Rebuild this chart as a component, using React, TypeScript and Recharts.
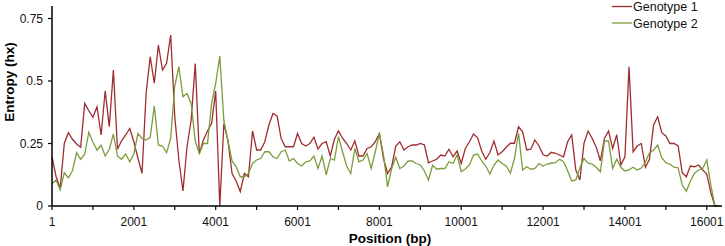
import { LineChart, Line, XAxis, YAxis, Label } from "recharts";

// entropy per 100 bp window
const GENOTYPE_1 = [
  0.197, 0.117, 0.07, 0.25, 0.293, 0.267, 0.248, 0.235, 0.41, 0.381,
  0.355, 0.397, 0.284, 0.461, 0.317, 0.544, 0.227, 0.261, 0.284, 0.31,
  0.257, 0.191, 0.131, 0.451, 0.597, 0.491, 0.644, 0.544, 0.571, 0.684,
  0.357, 0.184, 0.06, 0.237, 0.344, 0.57, 0.21, 0.264, 0.3, 0.33,
  0.46, 0.0, 0.33, 0.26, 0.13, 0.1, 0.057, 0.13, 0.117, 0.3,
  0.224, 0.224, 0.257, 0.324, 0.37, 0.36, 0.27, 0.237, 0.237, 0.237,
  0.29, 0.25, 0.24, 0.25, 0.275, 0.228, 0.25, 0.257, 0.2, 0.267,
  0.3, 0.271, 0.25, 0.224, 0.26, 0.2, 0.2, 0.23, 0.237, 0.257,
  0.29, 0.19, 0.13, 0.157, 0.24, 0.257, 0.224, 0.237, 0.244, 0.244,
  0.25, 0.244, 0.173, 0.18, 0.187, 0.204, 0.2, 0.227, 0.197, 0.22,
  0.17, 0.23, 0.257, 0.288, 0.273, 0.22, 0.187, 0.214, 0.26, 0.204,
  0.217, 0.235, 0.251, 0.251, 0.317, 0.297, 0.224, 0.227, 0.264, 0.24,
  0.205, 0.2, 0.215, 0.211, 0.204, 0.197, 0.257, 0.284, 0.144, 0.104,
  0.251, 0.3, 0.27, 0.235, 0.181, 0.27, 0.3, 0.23, 0.285, 0.164,
  0.197, 0.557, 0.217, 0.24, 0.25, 0.155, 0.187, 0.324, 0.357, 0.293,
  0.28, 0.25, 0.25, 0.24, 0.133, 0.117, 0.16, 0.157, 0.164, 0.144,
  0.128, 0.053, 0.0, 0.0,
];

const GENOTYPE_2 = [
  0.09, 0.104, 0.064, 0.133, 0.113, 0.141, 0.213, 0.187, 0.208, 0.295,
  0.255, 0.224, 0.243, 0.2, 0.227, 0.288, 0.2, 0.187, 0.208, 0.177,
  0.208, 0.29, 0.27, 0.264, 0.275, 0.4, 0.244, 0.24, 0.213, 0.27,
  0.48, 0.557, 0.437, 0.45, 0.41, 0.26, 0.21, 0.25, 0.25, 0.41,
  0.49, 0.6, 0.34, 0.26, 0.18, 0.157, 0.117, 0.117, 0.13, 0.17,
  0.184, 0.19, 0.217, 0.217, 0.197, 0.19, 0.217, 0.224, 0.18, 0.19,
  0.17, 0.16, 0.177, 0.18, 0.2, 0.15, 0.2, 0.125, 0.19, 0.184,
  0.277, 0.217, 0.16, 0.13, 0.23, 0.177, 0.184, 0.21, 0.15, 0.217,
  0.29, 0.205, 0.077, 0.15, 0.195, 0.15, 0.16, 0.18, 0.18, 0.17,
  0.164, 0.14, 0.104, 0.163, 0.147, 0.15, 0.15, 0.177, 0.17, 0.204,
  0.137, 0.148, 0.164, 0.204, 0.208, 0.18, 0.16, 0.128, 0.164, 0.184,
  0.17, 0.16, 0.131, 0.19, 0.291, 0.144, 0.157, 0.147, 0.15, 0.17,
  0.16, 0.168, 0.171, 0.173, 0.187, 0.177, 0.141, 0.1, 0.104, 0.153,
  0.19, 0.171, 0.168, 0.155, 0.137, 0.26, 0.26, 0.15, 0.187, 0.155,
  0.14, 0.144, 0.155, 0.144, 0.152, 0.176, 0.212, 0.224, 0.244, 0.193,
  0.173, 0.167, 0.155, 0.153, 0.084, 0.059, 0.1, 0.131, 0.144, 0.15,
  0.184, 0.084, 0.0, 0.0,
];

const WINDOW_STEP = 100;

const X_TICKS = [
  1, 1001, 2001, 3001, 4001, 5001, 6001, 7001, 8001, 9001, 10001, 11001,
  12001, 13001, 14001, 15001, 16001,
];
const X_LABELS = [1, 2001, 4001, 6001, 8001, 10001, 12001, 14001, 16001];
const Y_TICKS = [0, 0.25, 0.5, 0.75];

const SERIES = [
  { key: "g1", name: "Genotype 1", color: "#9e2d2f" },
  { key: "g2", name: "Genotype 2", color: "#7b9c3c" },
];

const FONT = "'Liberation Sans', Arial, sans-serif";

const chartData = GENOTYPE_1.map((v, i) => ({
  pos: 1 + i * WINDOW_STEP,
  g1: v,
  g2: GENOTYPE_2[i],
}));

// legend drawn in svg so it doesn't eat plot height
const renderLegend = () => (
  <g>
    {SERIES.map((s, i) => (
      <g key={s.key}>
        <line
          x1={612}
          x2={632}
          y1={6.5 + i * 16.5}
          y2={6.5 + i * 16.5}
          stroke={s.color}
          strokeWidth={1.3}
        />
        <text
          x={633}
          y={7 + i * 16.5}
          dominantBaseline="central"
          fontSize={12.5}
          fontFamily={FONT}
          fill="#111"
        >
          {s.name}
        </text>
      </g>
    ))}
  </g>
);

export default function App() {
  return (
    <div style={{ position: "absolute", left: 0, top: 0, background: "#fff" }}>
      <LineChart
        width={725}
        height={246}
        data={chartData}
        margin={{ top: 6, right: 3, bottom: 0, left: 0 }}
      >
        <XAxis
          dataKey="pos"
          type="number"
          domain={[1, 16373]}
          ticks={X_TICKS}
          interval={0}
          height={40}
          tickFormatter={(v) => (X_LABELS.includes(v) ? String(v) : "")}
          tickSize={4}
          tickMargin={7}
          axisLine={{ stroke: "#000", strokeWidth: 1.5 }}
          tickLine={{ stroke: "#000", strokeWidth: 1.2 }}
          tick={{ fill: "#111", fontSize: 12, fontFamily: FONT }}
        >
          <Label
            content={() => (
              <text
                x={390}
                y={243}
                textAnchor="middle"
                fontSize={13.5}
                fontWeight="bold"
                fontFamily={FONT}
                fill="#000"
              >
                Position (bp)
              </text>
            )}
          />
        </XAxis>
        <YAxis
          type="number"
          domain={[0, 0.8]}
          ticks={Y_TICKS}
          interval={0}
          width={52}
          tickSize={4}
          tickMargin={5}
          axisLine={{ stroke: "#000", strokeWidth: 1.5 }}
          tickLine={{ stroke: "#000", strokeWidth: 1.2 }}
          tick={{ fill: "#111", fontSize: 12, fontFamily: FONT }}
        >
          <Label
            content={() => (
              <text
                x={9}
                y={82}
                transform="rotate(-90 9 82)"
                textAnchor="middle"
                dominantBaseline="central"
                fontSize={13.5}
                fontWeight="bold"
                fontFamily={FONT}
                fill="#000"
              >
                Entropy (hx)
              </text>
            )}
          />
          <Label content={renderLegend} />
        </YAxis>
        {SERIES.map((s) => (
          <Line
            key={s.key}
            type="linear"
            dataKey={s.key}
            name={s.name}
            stroke={s.color}
            strokeWidth={1.3}
            dot={false}
            activeDot={false}
            isAnimationActive={false}
          />
        ))}
      </LineChart>
    </div>
  );
}
